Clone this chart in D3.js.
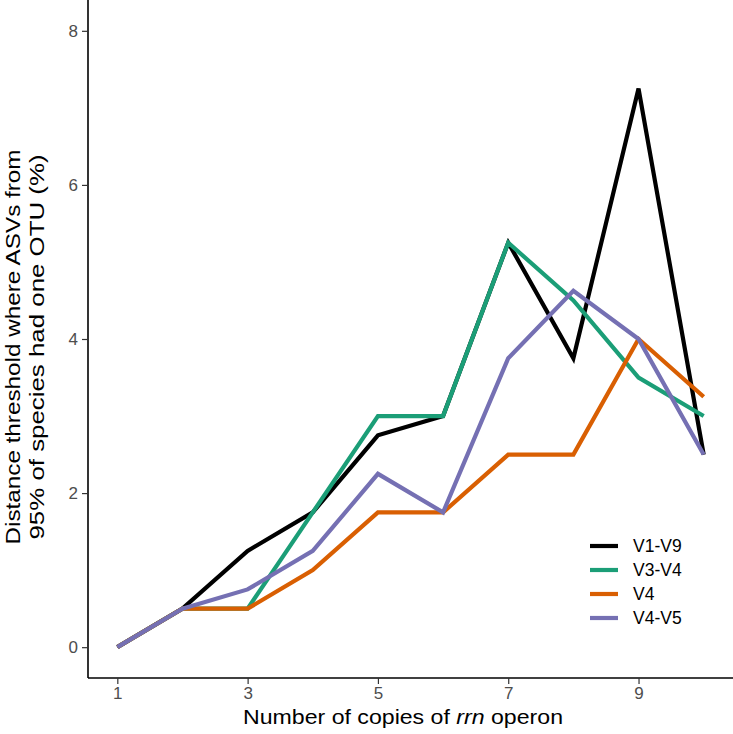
<!DOCTYPE html>
<meta charset="utf-8">
<script src="https://d3js.org/d3.v7.min.js"></script>
<style>
  body { margin: 0; background: #fff; font-family: 'Liberation Sans', Arial, sans-serif; }
  .axis text { font-size: 17px; fill: #4d4d4d; font-family: 'Liberation Sans', Arial, sans-serif; }
</style>
<body>
<div id="chart"></div>
<script>
// data
var copies = [1, 2, 3, 4, 5, 6, 7, 8, 9, 10];
var seriesNames = ["V1-V9", "V3-V4", "V4", "V4-V5"];
var v1v9 = [0, 0.5, 1.25, 1.75, 2.75, 3, 5.25, 3.75, 7.25, 2.5];
var v3v4 = [0, 0.5, 0.5, 1.75, 3, 3, 5.25, 4.5, 3.5, 3];
var v4   = [0, 0.5, 0.5, 1, 1.75, 1.75, 2.5, 2.5, 4, 3.25];
var v4v5 = [0, 0.5, 0.75, 1.25, 2.25, 1.75, 3.75, 4.625, 4, 2.5];
var xTicks = [1, 3, 5, 7, 9];
var yTicks = [0, 2, 4, 6, 8];
var colors = ["#000000", "#1b9e77", "#d95f02", "#7570b3"];

var W = 733, H = 734;
var margin = {top: 0, left: 88, right: 0, bottom: 56};
var width = W - margin.left - margin.right,
    height = H - margin.top - margin.bottom;

var svg = d3.select("#chart")
  .append("svg")
    .attr("width", W)
    .attr("height", H);
var g = svg.append("g")
    .attr("transform", "translate(" + margin.left + "," + margin.top + ")");

var x = d3.scaleLinear().domain([1 - 0.45, 10 + 0.45]).range([0, width]);
var y = d3.scaleLinear().domain([-0.4, 8.4]).range([height, 0]);

// axes
var xAxis = g.append("g")
    .attr("class", "axis")
    .attr("transform", "translate(0," + height + ")")
    .call(d3.axisBottom(x).tickValues(xTicks).tickSize(6).tickPadding(3));
var yAxis = g.append("g")
    .attr("class", "axis")
    .call(d3.axisLeft(y).tickValues(yTicks).tickSize(6).tickPadding(4));
[xAxis, yAxis].forEach(function(a) {
  a.attr("font-size", 17);
  a.select(".domain").attr("stroke", "#000").attr("stroke-width", 1.6);
  a.selectAll(".tick line").attr("stroke", "#333").attr("stroke-width", 1.2);
});
// keep the axis lines flush with the panel
xAxis.select(".domain").attr("d", "M0,0H" + width);
yAxis.select(".domain").attr("d", "M0,0V" + height);

// lines
var all = [v1v9, v3v4, v4, v4v5];
var line = d3.line()
  .x(function(d, i) { return x(copies[i]); })
  .y(function(d) { return y(d); });
all.forEach(function(vals, k) {
  g.append("path")
    .datum(vals)
    .attr("fill", "none")
    .attr("stroke", colors[k])
    .attr("stroke-width", 4.2)
    .attr("stroke-linejoin", "miter")
    .attr("d", line);
});

// legend
var legend = svg.append("g").attr("transform", "translate(590,546)");
seriesNames.forEach(function(name, k) {
  var row = legend.append("g").attr("transform", "translate(0," + (k * 24) + ")");
  row.append("line")
    .attr("x1", 0).attr("x2", 28)
    .attr("y1", 0).attr("y2", 0)
    .attr("stroke", colors[k])
    .attr("stroke-width", 4.2);
  row.append("text")
    .attr("x", 43).attr("y", 0)
    .attr("dy", "0.35em")
    .style("font-size", "17.5px")
    .text(name);
});

// axis titles
var xt = svg.append("text")
  .attr("x", 403)
  .attr("y", 724)
  .attr("text-anchor", "middle")
  .attr("textLength", 320)
  .attr("lengthAdjust", "spacingAndGlyphs")
  .style("font-size", "21px");
xt.append("tspan").text("Number of copies of ");
xt.append("tspan").style("font-style", "italic").text("rrn");
xt.append("tspan").text(" operon");

var yt = svg.append("text")
  .attr("transform", "translate(20,347) rotate(-90)")
  .attr("text-anchor", "middle")
  .style("font-size", "20px");
yt.append("tspan").attr("x", 0).attr("dy", 0)
  .attr("textLength", 395).attr("lengthAdjust", "spacingAndGlyphs")
  .text("Distance threshold where ASVs from");
yt.append("tspan").attr("x", 0).attr("dy", 24)
  .attr("textLength", 385).attr("lengthAdjust", "spacingAndGlyphs")
  .text("95% of species had one OTU (%)");
</script>
</body>
